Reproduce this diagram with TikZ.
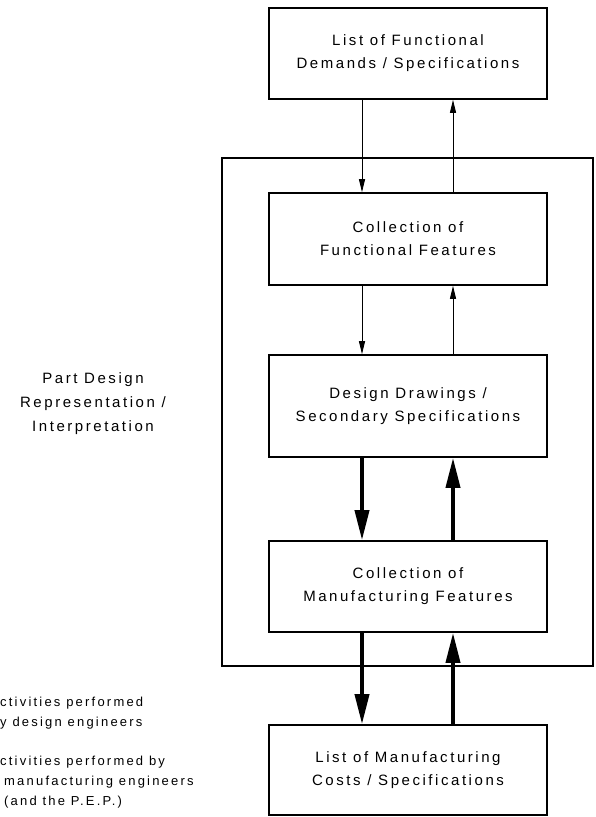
\documentclass[tikz,border=0pt]{standalone}
\usepackage{fontspec}
\setmainfont{Liberation Sans}
\newfontfamily\boxfont[LetterSpace=17]{Liberation Sans}
\newfontfamily\legfont[LetterSpace=17]{Liberation Sans}
\usetikzlibrary{arrows.meta}
\begin{document}
\begin{tikzpicture}[x=1pt,y=-1pt,
  box/.style={draw, line width=1.6pt, minimum width=278pt, inner sep=0pt,
    align=center, font=\boxfont\fontsize{15}{23}\selectfont},
  frame/.style={draw, line width=1.8pt, minimum width=371pt, minimum height=508pt, inner sep=0pt},
  thinarr/.style={line width=0.9pt, -{Triangle[length=13pt,width=6pt]}},
  thickarr/.style={line width=3.8pt, -{Triangle[length=30pt,width=14pt]}},
  lbl/.style={align=center, font=\boxfont\fontsize{15}{24}\selectfont, inner sep=0pt},
  leg/.style={anchor=west, inner sep=0pt, font=\legfont\fontsize{13}{20}\selectfont}]
\useasboundingbox (0,0) rectangle (595,817);
\coordinate (L) at (362,0);
\coordinate (R) at (453,0);
\node[frame] (fr) at (407.5,412) {};
\node[box, minimum height=91pt] (top) at (408,53.5) {List of Functional\\Demands / Specifications};
\node[box, minimum height=92pt] (cff) at (408,239) {Collection of\\Functional Features};
\node[box, minimum height=102pt] (dd) at (408,406) {Design Drawings /\\Secondary Specifications};
\node[box, minimum height=91pt] (mf) at (408,586.5) {Collection of\\Manufacturing Features};
\node[box, minimum height=90pt] (bot) at (408,770) {List of Manufacturing\\Costs / Specifications};
\node[lbl] (pd) at (93,404) {Part Design\\Representation /\\Interpretation};
\draw[thinarr] (top.south -| L) -- (cff.north -| L);
\draw[thinarr] (cff.north -| R) -- (top.south -| R);
\draw[thinarr] (cff.south -| L) -- (dd.north -| L);
\draw[thinarr] (dd.north -| R) -- (cff.south -| R);
\draw[thickarr] (dd.south -| L) -- (mf.north -| L);
\draw[thickarr] (mf.north -| R) -- (dd.south -| R);
\draw[thickarr] (mf.south -| L) -- (bot.north -| L);
\draw[thickarr] (bot.north -| R) -- (mf.south -| R);
\node[leg] (l1) at (0,703) {ctivities performed};
\node[leg] (l2) at (0,723) {y design engineers};
\node[leg] (l3) at (0,762) {ctivities performed by};
\node[leg] (l4) at (4,782) {manufacturing engineers};
\node[leg] (l5) at (4,802) {(and the P.E.P.)};
\end{tikzpicture}
\end{document}
